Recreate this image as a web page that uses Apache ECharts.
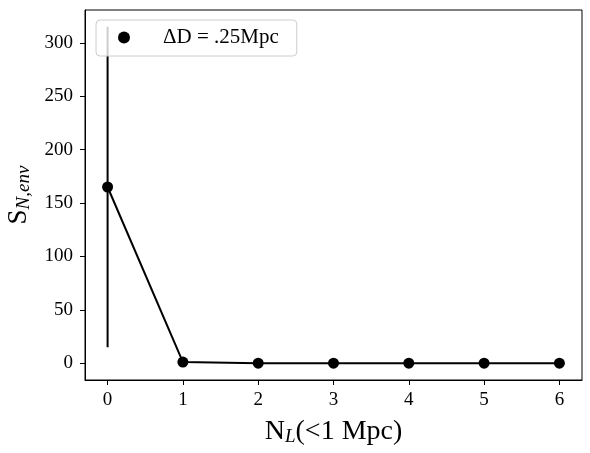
<!DOCTYPE html>
<html><head><meta charset="utf-8">
<script src="https://cdn.jsdelivr.net/npm/echarts@6/dist/echarts.min.js"></script>
<style>html,body{margin:0;padding:0;background:#fff}#c{width:590px;height:453px}</style>
</head><body><div id="c"></div>
<script>
const xValues = [0, 1, 2, 3, 4, 5, 6];
const yValues = [165, 1, 0, 0, 0, 0, 0];
const errLow = [15, null, null, null, null, null, null];
const errHigh = [315, null, null, null, null, null, null];
const xTicks = [0, 1, 2, 3, 4, 5, 6];
const yTicks = [0, 50, 100, 150, 200, 250, 300];
const seriesName = 'ΔD = .25Mpc';

const font = 'Liberation Serif';
const chart = echarts.init(document.getElementById('c'), null, {renderer: 'canvas'});
const errData = [];
xValues.forEach((x, i) => { if (errLow[i] != null) errData.push([x, errLow[i], errHigh[i]]); });

chart.setOption({
  animation: false,
  grid: {left: 85, right: 8, top: 10, bottom: 73, show: true, borderColor: '#000', borderWidth: 1,
    containLabel: false, outerBoundsMode: 'none'},
  legend: {
    left: 96, top: 20, padding: [7, 18, 8, 22],
    borderColor: '#cccccc', borderWidth: 1, borderRadius: 4,
    backgroundColor: 'rgba(255,255,255,0.8)',
    itemWidth: 12, itemHeight: 12,
    data: [{name: seriesName, icon: 'circle'}],
    textStyle: {fontFamily: font, fontSize: 21, color: '#000', padding: [0, 0, 0, 28]}
  },
  xAxis: {
    type: 'value', min: -0.3, max: 6.3,
    axisLine: {show: true, onZero: false, lineStyle: {color: '#000'}},
    axisTick: {show: true, length: 5, customValues: xTicks, lineStyle: {color: '#000'}},
    axisLabel: {customValues: xTicks, fontFamily: font, fontSize: 19, color: '#000', margin: 11},
    splitLine: {show: false},
    name: '{a|N}{s|L}{a|(<1 Mpc)}', nameLocation: 'middle', nameGap: 37,
    nameTextStyle: {rich: {
      a: {fontFamily: font, fontSize: 28, color: '#000'},
      s: {fontFamily: font, fontSize: 19, fontStyle: 'italic', color: '#000', verticalAlign: 'bottom', padding: [10, 0, 0, 0]}
    }}
  },
  yAxis: {
    type: 'value', min: -15.75, max: 330.75,
    axisLine: {show: true, onZero: false, lineStyle: {color: '#000'}},
    axisTick: {show: true, length: 5, customValues: yTicks, lineStyle: {color: '#000'}},
    axisLabel: {customValues: yTicks, fontFamily: font, fontSize: 19, color: '#000', margin: 12},
    splitLine: {show: false},
    name: '{a|S}{s|N,env}', nameLocation: 'middle', nameGap: 50, nameRotate: 90,
    nameTextStyle: {rich: {
      a: {fontFamily: font, fontSize: 27, color: '#000'},
      s: {fontFamily: font, fontSize: 19, fontStyle: 'italic', color: '#000', verticalAlign: 'bottom', padding: [10, 0, 0, 0]}
    }}
  },
  series: [
    {
      type: 'custom', name: 'err', data: errData, silent: true, z: 1,
      renderItem: function (params, api) {
        const p1 = api.coord([api.value(0), api.value(1)]);
        const p2 = api.coord([api.value(0), api.value(2)]);
        return {type: 'line', shape: {x1: p1[0], y1: p1[1], x2: p2[0], y2: p2[1]},
          style: {stroke: '#000', lineWidth: 2}};
      }
    },
    {
      type: 'line', name: seriesName, z: 2,
      data: xValues.map((x, i) => [x, yValues[i]]),
      symbol: 'circle', symbolSize: 11,
      itemStyle: {color: '#000'},
      lineStyle: {color: '#000', width: 2}
    }
  ]
});
</script></body></html>
